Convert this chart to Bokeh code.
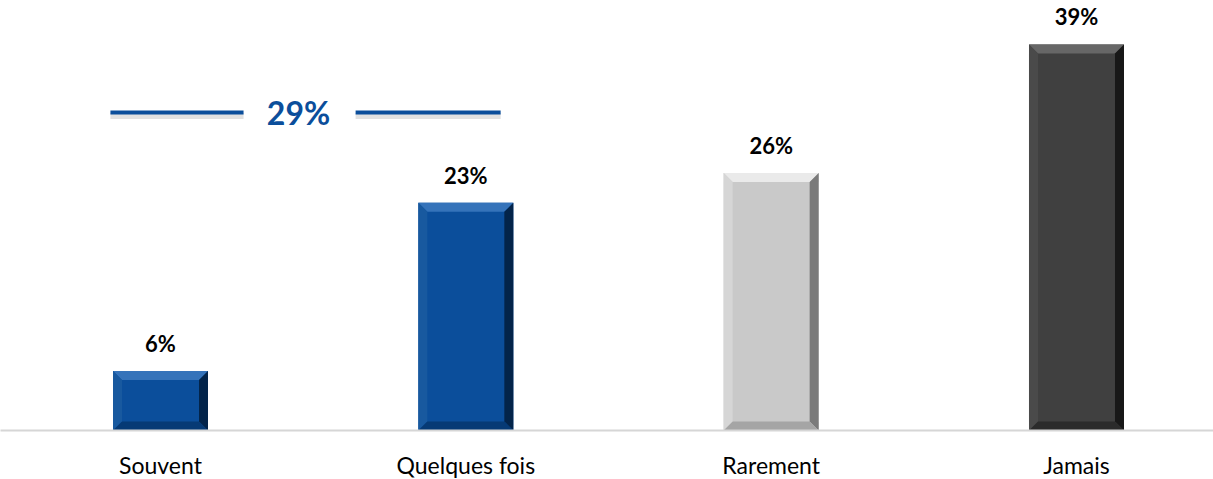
from bokeh.plotting import figure
from bokeh.models import Range1d, FixedTicker
from bokeh.core.properties import value
from bokeh.embed import file_html
from bokeh.resources import INLINE

categories = ["Souvent", "Quelques fois", "Rarement", "Jamais"]
values = [6, 23, 26, 39]
value_labels = ["6%", "23%", "26%", "39%"]
group_total_label = "29%"  # Souvent + Quelques fois

main_colors = ["#0B4E9B", "#0B4E9B", "#C9C9C9", "#404040"]
top_colors = ["#3573BA", "#3573BA", "#EAEAEA", "#676767"]
left_colors = ["#18599F", "#18599F", "#D6D6D6", "#4A4A4A"]
right_colors = ["#03244A", "#03244A", "#7A7A7A", "#181818"]
bottom_colors = ["#063A75", "#063A75", "#A5A5A5", "#2B2B2B"]

FW, FH = 1213, 430
px_per_unit_x = 305.33
px_per_unit_y = 9.9
x0 = -160 / px_per_unit_x
x1 = x0 + FW / px_per_unit_x
y1 = FH / px_per_unit_y

p = figure(frame_width=FW, frame_height=FH, output_backend="svg", toolbar_location=None,
           x_range=Range1d(x0, x1), y_range=Range1d(0, y1),
           min_border_left=0, min_border_right=0, min_border_top=0, min_border_bottom=0)
p.outline_line_color = None
p.background_fill_color = "white"
p.border_fill_color = "white"
p.xgrid.visible = False
p.ygrid.visible = False
p.yaxis.visible = False

xs = list(range(len(categories)))
bw = 95 / px_per_unit_x
bx = 9 / px_per_unit_x
by = 9 / px_per_unit_y

# main bars
p.vbar(x=xs, top=values, width=bw, bottom=0, fill_color=main_colors, line_color=None)

# bevel facets
pxs, pys, pcol = [], [], []
for i, v in enumerate(values):
    L, R, T, B = i - bw / 2, i + bw / 2, v, 0
    pxs.append([L, R, R - bx, L + bx]); pys.append([T, T, T - by, T - by]); pcol.append(top_colors[i])
    pxs.append([L, L + bx, L + bx, L]); pys.append([T, T - by, B + by, B]); pcol.append(left_colors[i])
    pxs.append([R, R, R - bx, R - bx]); pys.append([T, B, B + by, T - by]); pcol.append(right_colors[i])
    pxs.append([L, L + bx, R - bx, R]); pys.append([B, B + by, B + by, B]); pcol.append(bottom_colors[i])
p.patches(xs=pxs, ys=pys, fill_color=pcol, line_color=None)

# value labels
p.text(x=xs, y=values, text=value_labels, text_align="center", text_baseline="bottom",
       y_offset=-14, text_font=value("Lato"), text_font_style="bold",
       text_font_size="22px", text_color="black")

# group total annotation
gy = (430 - 112) / px_per_unit_y
seg_x0 = [-0.164, 0.639]
seg_x1 = [0.272, 1.114]
p.segment(x0=seg_x0, x1=seg_x1, y0=[gy - 0.35] * 2, y1=[gy - 0.35] * 2,
          line_color="#9A9A9A", line_width=6, line_alpha=0.3)
p.segment(x0=seg_x0, x1=seg_x1, y0=[gy] * 2, y1=[gy] * 2,
          line_color="#0B4E9B", line_width=4)
p.text(x=[0.452], y=[gy], text=[group_total_label], text_align="center", text_baseline="middle",
       text_font=value("Lato"), text_font_style="bold", text_font_size="32px", text_color="#0B4E9B")

# x axis
ax = p.xaxis[0]
ax.ticker = FixedTicker(ticks=xs)
ax.major_label_overrides = {i: c for i, c in enumerate(categories)}
ax.major_tick_line_color = None
ax.minor_tick_line_color = None
ax.axis_line_color = "#D6D6D6"
ax.axis_line_width = 2
ax.major_label_standoff = 14
ax.major_label_text_font = "Lato"
ax.major_label_text_font_size = "23px"
ax.major_label_text_color = "black"

open("out.html", "w").write(file_html(p, INLINE))
